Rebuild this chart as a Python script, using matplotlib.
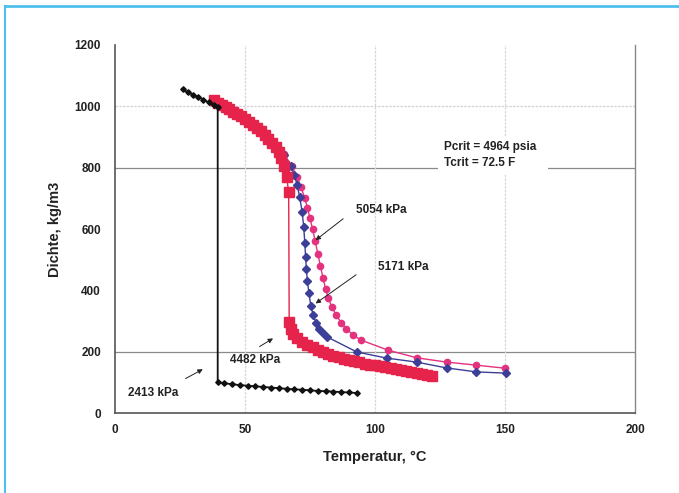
import matplotlib
matplotlib.use("Agg")
import matplotlib.pyplot as plt
from matplotlib.lines import Line2D

plt.rcParams['font.family'] = ['Liberation Sans', 'DejaVu Sans']

# ---------------- data ----------------
# 2413 kPa (black)
t_2413_liq = [26, 28, 30, 32, 34, 36, 38, 39.5]
d_2413_liq = [1055, 1046, 1038, 1030, 1022, 1013, 1005, 998]
t_2413_vap = [39.5, 42, 45, 48, 51, 54, 57, 60, 63, 66, 69, 72, 75, 78, 81, 84, 87, 90, 93]
d_2413_vap = [101, 97, 94, 91, 89, 87, 85, 83, 81, 79, 77, 76, 74, 72, 71, 70, 68, 67, 65]

# 4482 kPa (red)
t_4482_liq = [38, 39.5, 41, 42.5, 44, 45.5, 47, 48.5, 50, 51.5, 53, 54.5, 56, 57.5,
              59, 60.5, 62, 63, 64, 65, 66, 66.8]
d_4482_liq = [1020, 1012, 1005, 998, 990, 983, 975, 967, 958, 949, 940, 930, 919, 908,
              895, 882, 866, 850, 830, 805, 770, 720]
t_4482_vap = [67, 67.5, 68.5, 70, 72, 74, 76, 78, 80, 82, 84, 86, 88, 90, 92, 94, 96,
              98, 100, 102, 104, 106, 108, 110, 112, 114, 116, 118, 120, 122]
d_4482_vap = [297, 275, 258, 244, 232, 222, 214, 206, 199, 193, 187, 182, 177, 173, 169,
              165, 161, 158, 155, 152, 149, 146, 143, 140, 137, 134, 131, 128, 125, 122]

# 5054 kPa (blue)
t_5054 = [38, 42, 46, 50, 54, 58, 62, 65, 67.5, 69, 70, 71, 72, 72.6, 73, 73.3, 73.6, 74,
          74.6, 75.3, 76.2, 77.3, 78.6, 80, 81.6, 93, 104.5, 116, 127.5, 139, 150.5]
d_5054 = [1021, 999, 979, 956, 932, 905, 872, 840, 805, 775, 745, 705, 655, 605, 555, 510,
          470, 430, 390, 350, 320, 295, 275, 260, 248, 199, 179, 166, 147, 134, 130]

# 5171 kPa (magenta)
t_5171 = [38, 42, 46, 50, 54, 58, 62, 65, 68, 70, 71.5, 73, 74, 75, 76, 77, 78, 79, 80,
          81, 82, 83.5, 85, 87, 89, 91.5, 94.5, 105, 116, 127.5, 139, 150]
d_5171 = [1022, 1000, 980, 958, 934, 907, 875, 845, 805, 770, 738, 700, 670, 635, 600,
          560, 520, 480, 440, 405, 375, 345, 320, 295, 275, 255, 238, 205, 180, 166, 156, 146]

x_ticks = [0, 50, 100, 150, 200]
y_ticks = [0, 200, 400, 600, 800, 1000, 1200]
h_grid_dark = [200, 800]
h_grid_light = [1000]
v_grid = [50, 100, 150]

labels = ["5054 kPa", "5171 kPa", "4482 kPa", "2413 kPa"]
label_xy = [(92.5, 662), (101.3, 476), (44.3, 173), (5, 65)]
arrow_from = [(88.6, 639), (93.6, 456), (54.7, 212), (26.2, 108)]
arrow_to = [(76.3, 558), (76.3, 352), (61.7, 248), (34.7, 147)]

crit_text = "Pcrit = 4964 psia  \nTcrit = 72.5 F"
crit_xy = (126.4, 840)

# ---------------- figure ----------------
fig = plt.figure(figsize=(6.79, 4.93), dpi=100)
ax = fig.add_axes([115/679, 1 - 413/493, (635-115)/679, (413-45)/493])

ax.set_xlim(0, 200)
ax.set_ylim(0, 1200)

for g in h_grid_dark:
    ax.axhline(g, color='#8a8a8a', lw=0.9, zorder=0)
for g in h_grid_light:
    ax.axhline(g, color='#d2d2d2', lw=0.9, ls=(0, (2, 1)), zorder=0)
for g in v_grid:
    ax.axvline(g, color='#d6d6d6', lw=0.9, ls=(0, (2, 1)), zorder=0)

magenta = '#e3327e'
blue = '#3b3f98'
red = '#e5234b'

ax.plot(t_5171, d_5171, color=magenta, lw=1.0, marker='o', ms=4.5,
        mfc=magenta, mec=magenta, zorder=2)
ax.plot(t_5054, d_5054, color=blue, lw=1.0, marker='D', ms=4.5,
        mfc=blue, mec=blue, zorder=3)
ax.plot(t_4482_liq + t_4482_vap, d_4482_liq + d_4482_vap, color=red, lw=1.0, zorder=4)
ax.plot(t_4482_liq, d_4482_liq, ls='none', marker='s', ms=6.5, mfc=red, mec=red, zorder=4)
ax.plot(t_4482_vap, d_4482_vap, ls='none', marker='s', ms=6.5, mfc=red, mec=red, zorder=4)
ax.plot(t_2413_liq + t_2413_vap, d_2413_liq + d_2413_vap, color='#111111', lw=1.3,
        marker='D', ms=2.8, mfc='#111111', mec='#111111', zorder=5)

ax.text(crit_xy[0], crit_xy[1], crit_text, fontsize=8.5, fontweight='bold',
        color='#222222', ha='left', va='center', linespacing=1.45,
        bbox=dict(facecolor='white', edgecolor='none', pad=4), zorder=6)

for lab, xy, fr, to in zip(labels, label_xy, arrow_from, arrow_to):
    ax.text(xy[0], xy[1], lab, fontsize=8.5, fontweight='bold', color='#222222',
            ha='left', va='center', zorder=6)
    ax.annotate('', xy=to, xytext=fr,
                arrowprops=dict(arrowstyle='-|>', color='#222222', lw=0.7,
                                mutation_scale=7), zorder=6)

ax.set_xticks(x_ticks)
ax.set_yticks(y_ticks)
ax.tick_params(length=0, labelsize=8.5, colors='#222222')
ax.tick_params(axis='y', pad=10)
ax.tick_params(axis='x', pad=8)
for lbl in ax.get_xticklabels() + ax.get_yticklabels():
    lbl.set_fontweight('bold')

ax.spines['top'].set_visible(False)
for s in ['left', 'bottom']:
    ax.spines[s].set_color('#555555')
    ax.spines[s].set_linewidth(1.2)
ax.spines['right'].set_color('#888888')
ax.spines['right'].set_linewidth(1.0)

ax.set_xlabel('Temperatur, °C', fontsize=10.5, fontweight='bold', color='#222222',
              labelpad=10)
ax.set_ylabel('Dichte, kg/m3', fontsize=10.5, fontweight='bold', color='#222222',
              labelpad=9)

# light-blue frame at top and left
frame_col = '#4fc0ee'
fig.add_artist(Line2D([5/679, 1], [1 - 6/493, 1 - 6/493], transform=fig.transFigure,
                      color=frame_col, lw=2))
fig.add_artist(Line2D([5/679, 5/679], [0, 1 - 6/493], transform=fig.transFigure,
                      color=frame_col, lw=1.5))

fig.savefig('out.png', dpi=100)
